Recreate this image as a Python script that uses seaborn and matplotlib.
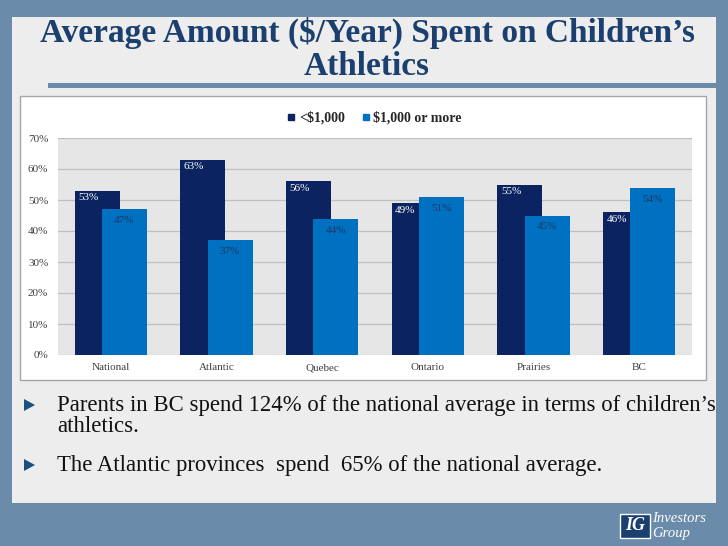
import matplotlib
matplotlib.use('Agg')
import matplotlib.pyplot as plt
import seaborn as sns
import pandas as pd
from matplotlib.patches import Rectangle, Polygon
from matplotlib.lines import Line2D

# ---- data ----
regions = ['National', 'Atlantic', 'Quebec', 'Ontario', 'Prairies', 'BC']
series_names = ['<$1,000', '$1,000 or more']
under_1000 = [53, 63, 56, 49, 55, 46]
over_1000 = [47, 37, 44, 51, 45, 54]
y_ticks = [0, 10, 20, 30, 40, 50, 60, 70]
title_lines = ["Average Amount (\\$/Year) Spent on Children\u2019s", "Athletics"]
bullet1_lines = ["Parents in BC spend 124% of the national average in terms of children\u2019s",
                 "athletics."]
bullet2_lines = ["The Atlantic provinces  spend  65% of the national average."]

df = pd.DataFrame({
    'region': regions * 2,
    'value': under_1000 + over_1000,
    'series': [series_names[0]] * len(regions) + [series_names[1]] * len(regions),
})

DARK = '#0B2360'
LIGHT = '#0070C0'
SLATE = '#6A8BAA'
PANEL = '#EDEDED'
TITLE_C = '#1B3F6E'
SERIF = ['Liberation Serif', 'DejaVu Serif']

W, H = 728, 546
sns.set_theme(style='white')
plt.rcParams['font.family'] = SERIF

fig = plt.figure(figsize=(W / 100, H / 100), dpi=100)
fig.patch.set_facecolor(SLATE)


def rect(x0, y0, x1, y1, z=-10, **kw):
    fig.add_artist(Rectangle((x0 / W, 1 - y1 / H), (x1 - x0) / W, (y1 - y0) / H,
                             transform=fig.transFigure, zorder=z, **kw))


def ax_box(x0, y0, x1, y1):
    return [x0 / W, 1 - y1 / H, (x1 - x0) / W, (y1 - y0) / H]


# slide panel
rect(12, 17, 716, 503, z=-12, facecolor=PANEL, edgecolor='none')
# title underline bar
rect(48, 83, 718, 88, z=-11, facecolor=SLATE, edgecolor='none')
# chart box
rect(20, 96, 706, 380, z=-11, facecolor='white', edgecolor='#A6A6A6', linewidth=1)

# title
for ty, line in zip([42, 75], title_lines):
    fig.text(367 / W, 1 - ty / H, line, ha='center', va='baseline', fontsize=24,
             fontweight='bold', color=TITLE_C, family=SERIF)

# chart
ax = fig.add_axes(ax_box(58, 138, 692, 355))
ax.set_facecolor('#E6E6E6')
sns.barplot(data=df, x='region', y='value', hue='series', order=regions,
            hue_order=series_names, palette=[DARK, LIGHT], saturation=1,
            width=0.512, gap=-0.664, dodge=True, legend=False, ax=ax,
            linewidth=0, errorbar=None)
ax.set_ylim(0, 70)
ax.set_xlim(-0.5, len(regions) - 0.5)
ax.set_yticks(y_ticks)
ax.set_yticklabels([f'{t}%' for t in y_ticks])
ax.yaxis.grid(True, color='#BFBFBF', linewidth=0.9)
ax.set_axisbelow(True)
for s in ax.spines.values():
    s.set_visible(False)
ax.tick_params(axis='both', length=0, labelsize=8, labelcolor='#404040')
ax.tick_params(axis='y', pad=7)
ax.tick_params(axis='x', pad=6)
ax.set_xlabel('')
ax.set_ylabel('')

patches = [p for p in ax.patches if p.get_height() > 0]
n = len(regions)
dark_p = patches[:n]
light_p = patches[n:2 * n]
for d, l in zip(dark_p, light_p):
    xd = (d.get_x() + l.get_x()) / 2
    ax.annotate(f'{d.get_height():.0f}%', (xd, d.get_height()), xytext=(0, -2),
                textcoords='offset points', ha='center', va='top', fontsize=8,
                color='white')
    xl = l.get_x() + l.get_width() / 2
    ax.annotate(f'{l.get_height():.0f}%', (xl, l.get_height()), xytext=(0, -5),
                textcoords='offset points', ha='center', va='top', fontsize=8,
                color='#1F3864')

# legend
handles = [Line2D([], [], marker='s', linestyle='none', markersize=5,
                  markerfacecolor=c, markeredgecolor=c) for c in (DARK, LIGHT)]
fig.legend(handles, series_names, loc='center', bbox_to_anchor=(373 / W, 1 - 118 / H),
           ncol=2, frameon=False, handletextpad=0.05, columnspacing=1.0,
           handlelength=1.0, prop={'family': SERIF, 'weight': 'bold', 'size': 10})

# bullets
for by, lines in [(405, bullet1_lines), (465, bullet2_lines)]:
    fig.add_artist(Polygon([[24 / W, 1 - (by - 6) / H], [24 / W, 1 - (by + 6) / H],
                            [35 / W, 1 - by / H]], closed=True, transform=fig.transFigure,
                           facecolor='#1B4F7E', edgecolor='none'))
    for i, line in enumerate(lines):
        fig.text(57 / W, 1 - (by + 22 * i) / H, line, ha='left', va='center',
                 fontsize=16.4, color='#111111', family=SERIF)

# logo
rect(620, 514, 650, 538, z=1, facecolor='#1B3F6E', edgecolor='white', linewidth=1)
fig.text(635 / W, 1 - 526 / H, 'IG', ha='center', va='center', fontsize=13,
         fontweight='bold', style='italic', color='white', family=SERIF)
fig.text(652 / W, 1 - 519 / H, 'Investors', ha='left', va='center', fontsize=10.5,
         style='italic', color='white', family=SERIF)
fig.text(652 / W, 1 - 533 / H, 'Group', ha='left', va='center', fontsize=10.5,
         style='italic', color='white', family=SERIF)

fig.savefig('out.png', dpi=100, facecolor=fig.get_facecolor())
